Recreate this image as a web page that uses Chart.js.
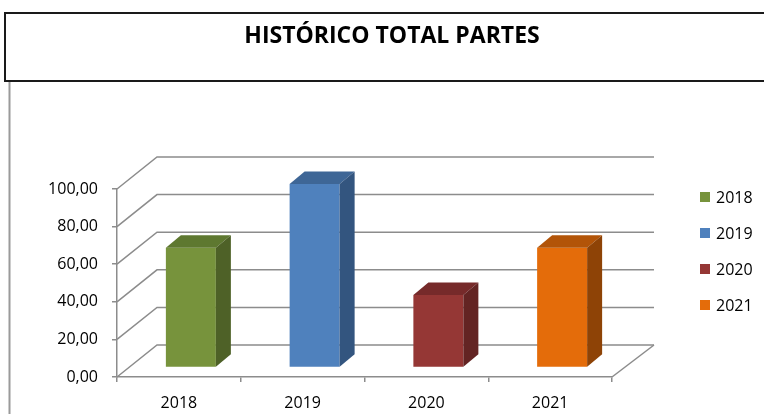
<!DOCTYPE html>
<html>
<head>
<meta charset="utf-8">
<title>Histórico total partes</title>
<script src="https://cdn.jsdelivr.net/npm/chart.js@4.4.1/dist/chart.umd.min.js"></script>
<style>
  html, body { margin: 0; padding: 0; background: #fff; }
  #wrap { width: 764px; height: 414px; }
</style>
</head>
<body>
<div id="wrap"><canvas id="myChart" width="764" height="414"></canvas></div>
<script>
// data
var chartTitle = "HISTÓRICO TOTAL PARTES";
var categories = ["2018", "2019", "2020", "2021"];
var values = [63.7, 97.6, 38.6, 63.7];
var yTicks = [0, 20, 40, 60, 80, 100];

// colours (front / top / side)
var frontColors = ["#77933C", "#4F81BD", "#953735", "#E46C0A"];
var topColors = ["#5E7830", "#3E6696", "#762A2A", "#B25408"];
var sideColors = ["#4E6127", "#33557F", "#632423", "#8E4306"];

var GRID = "#8c8c8c";
var FONT = "'Open Sans', 'Liberation Sans', sans-serif";

// 3d look: back wall offset, bar plane offset, bar depth
var WALL = { dx: 40, dy: -32 };
var PLANE = { dx: 12, dy: -9.5 };
var DEPTH = { dx: 15, dy: -12.5 };

var fake3d = {
  id: 'fake3d',
  beforeDraw: function(chart) {
    var c = chart.ctx;
    c.save();
    c.fillStyle = "#fff";
    c.fillRect(0, 0, chart.width, chart.height);
    c.restore();
  },
  beforeDatasetsDraw: function(chart) {
    var c = chart.ctx, a = chart.chartArea, ys = chart.scales.y;
    c.save();
    c.strokeStyle = GRID;
    c.lineWidth = 1.5;
    yTicks.forEach(function(t) {
      var y = ys.getPixelForValue(t);
      c.beginPath();
      c.moveTo(a.left, y);
      c.lineTo(a.left + WALL.dx, y + WALL.dy);
      c.lineTo(a.right + WALL.dx + 2, y + WALL.dy);
      c.stroke();
    });
    // floor right edge
    c.beginPath();
    c.moveTo(a.right, a.bottom);
    c.lineTo(a.right + WALL.dx + 2, a.bottom + WALL.dy);
    c.stroke();
    c.restore();
    // bars sit a little inside the floor
    c.save();
    c.translate(PLANE.dx, PLANE.dy);
  },
  afterDatasetsDraw: function(chart) {
    var c = chart.ctx;
    var meta = chart.getDatasetMeta(0);
    meta.data.forEach(function(bar, i) {
      var p = bar.getProps(['x', 'y', 'base', 'width'], true);
      var l = p.x - p.width / 2, r = p.x + p.width / 2;
      // top
      c.fillStyle = topColors[i];
      c.beginPath();
      c.moveTo(l, p.y);
      c.lineTo(l + DEPTH.dx, p.y + DEPTH.dy);
      c.lineTo(r + DEPTH.dx, p.y + DEPTH.dy);
      c.lineTo(r, p.y);
      c.closePath();
      c.fill();
      // side
      c.fillStyle = sideColors[i];
      c.beginPath();
      c.moveTo(r, p.y);
      c.lineTo(r + DEPTH.dx, p.y + DEPTH.dy);
      c.lineTo(r + DEPTH.dx, p.base + DEPTH.dy);
      c.lineTo(r, p.base);
      c.closePath();
      c.fill();
    });
    c.restore();
  },
  afterDraw: function(chart) {
    var c = chart.ctx;
    c.save();
    // title box
    c.strokeStyle = "#1a1a1a";
    c.lineWidth = 2;
    c.strokeRect(5, 13, 780, 68);
    c.fillStyle = "#000";
    c.font = "bold 23px " + FONT;
    c.textAlign = "center";
    c.textBaseline = "alphabetic";
    c.fillText(chartTitle, 392, 43);
    // left border of plot frame
    c.strokeStyle = "#9a9a9a";
    c.lineWidth = 2;
    c.beginPath();
    c.moveTo(9.5, 82);
    c.lineTo(9.5, chart.height);
    c.stroke();
    // legend
    c.font = "16px " + FONT;
    c.textAlign = "left";
    c.textBaseline = "middle";
    categories.forEach(function(cat, i) {
      var y = 197 + i * 36;
      c.fillStyle = frontColors[i];
      c.fillRect(700, y - 5, 10, 10);
      c.fillStyle = "#000";
      c.fillText(cat, 716, y + 1);
    });
    c.restore();
  }
};

var ctx = document.getElementById("myChart").getContext('2d');
var myChart = new Chart(ctx, {
  type: 'bar',
  data: {
    labels: categories,
    datasets: [{
      label: 'Total partes',
      data: values,
      backgroundColor: frontColors,
      borderWidth: 0,
      barPercentage: 0.404,
      categoryPercentage: 1
    }]
  },
  options: {
    responsive: false,
    animation: false,
    layout: { padding: { top: 189, right: 152, bottom: 0, left: 0 } },
    plugins: {
      legend: { display: false },
      tooltip: { enabled: false }
    },
    scales: {
      x: {
        grid: { offset: true, drawOnChartArea: false, tickLength: 5, color: GRID, lineWidth: 1.5 },
        border: { color: GRID, width: 1.5 },
        ticks: { color: "#000", font: { family: FONT, size: 16 }, padding: 12, maxRotation: 0 },
        afterFit: function(s) { s.height = 37; }
      },
      y: {
        min: 0,
        max: 100,
        grid: { drawOnChartArea: false, tickLength: 5, color: GRID, lineWidth: 1.5 },
        border: { color: GRID, width: 1.5 },
        ticks: {
          stepSize: 20,
          color: "#000",
          font: { family: FONT, size: 16 },
          padding: 14,
          callback: function(v) { return v.toFixed(2).replace('.', ','); }
        },
        afterFit: function(s) { s.width = 117; }
      }
    }
  },
  plugins: [fake3d]
});
</script>
</body>
</html>
